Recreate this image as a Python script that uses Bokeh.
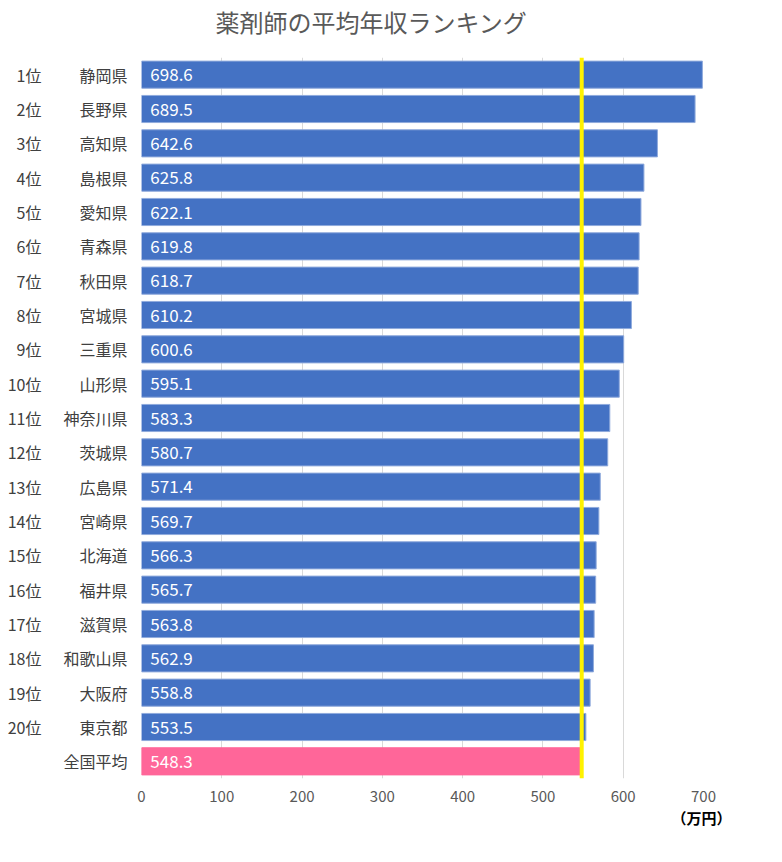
from bokeh.plotting import figure
from bokeh.models import Range1d, Span, ColumnDataSource, LabelSet, Title, LinearAxis, FixedTicker
from bokeh.core.properties import value
from bokeh.embed import file_html
from bokeh.resources import INLINE

ranks = ["1位", "2位", "3位", "4位", "5位", "6位", "7位", "8位", "9位", "10位",
         "11位", "12位", "13位", "14位", "15位", "16位", "17位", "18位", "19位", "20位", ""]
prefectures = ["静岡県", "長野県", "高知県", "島根県", "愛知県", "青森県", "秋田県", "宮城県",
               "三重県", "山形県", "神奈川県", "茨城県", "広島県", "宮崎県", "北海道", "福井県",
               "滋賀県", "和歌山県", "大阪府", "東京都", "全国平均"]
salaries = [698.6, 689.5, 642.6, 625.8, 622.1, 619.8, 618.7, 610.2, 600.6, 595.1,
            583.3, 580.7, 571.4, 569.7, 566.3, 565.7, 563.8, 562.9, 558.8, 553.5, 548.3]
national_average = 548.3
x_ticks = [0, 100, 200, 300, 400, 500, 600, 700]

BLUE = "#4472C4"
PINK = "#FF6699"
JP_FONT = "Noto Sans CJK JP"

idx = list(range(len(prefectures)))
colors = [BLUE] * (len(prefectures) - 1) + [PINK]
outlines = ["#8FAADC"] * (len(prefectures) - 1) + [PINK]
src = ColumnDataSource(dict(
    y=idx, v=salaries, color=colors, outline=outlines,
    vtxt=[f"{s:.1f}" for s in salaries], lx=[11] * len(idx),
))

p = figure(width=770, height=827, output_backend="svg", toolbar_location=None,
           x_range=Range1d(0, 700), y_range=Range1d(20.5, -0.5),
           min_border_left=141, min_border_right=67, min_border_top=57, min_border_bottom=0)
p.outline_line_color = None
p.background_fill_color = "white"
p.border_fill_color = "white"

p.hbar(y="y", left=0, right="v", height=0.79, source=src,
       fill_color="color", line_color="outline", line_width=1)

p.add_layout(Span(location=national_average, dimension="height",
                  line_color="#FFF200", line_width=4))

p.add_layout(LabelSet(x="lx", y="y", text="vtxt", source=src, text_color="white",
                      text_font_size="17px", text_font=value(JP_FONT), text_baseline="middle",
                      text_align="left"))

# x axis
p.xaxis.ticker = x_ticks
p.xaxis.axis_line_color = None
p.xaxis.major_tick_line_color = None
p.xaxis.minor_tick_line_color = None
p.xaxis.major_label_text_font = JP_FONT
p.xaxis.major_label_text_font_size = "15px"
p.xaxis.major_label_text_color = "#595959"
p.xaxis.major_label_standoff = 6

# prefecture axis (inner)
p.yaxis.ticker = FixedTicker(ticks=idx)
p.yaxis.major_label_overrides = {i: name for i, name in zip(idx, prefectures)}
p.yaxis.axis_line_color = None
p.yaxis.major_tick_line_color = None
p.yaxis.minor_tick_line_color = None
p.yaxis.major_label_text_font = JP_FONT
p.yaxis.major_label_text_font_size = "16px"
p.yaxis.major_label_text_color = "#404040"
p.yaxis.major_label_standoff = 8

# rank axis (outer)
rank_axis = LinearAxis(ticker=FixedTicker(ticks=idx),
                       major_label_overrides={i: r if r else " " for i, r in zip(idx, ranks)},
                       axis_line_color=None, major_tick_line_color=None,
                       minor_tick_line_color=None, major_label_text_font=JP_FONT,
                       major_label_text_font_size="16px", major_label_text_color="#404040",
                       major_label_standoff=13)
p.add_layout(rank_axis, "left")

p.xgrid.ticker = x_ticks
p.xgrid.grid_line_color = "#D9D9D9"
p.ygrid.grid_line_color = None

p.add_layout(Title(text="（万円）", align="right", offset=-28,
                   text_font=JP_FONT, text_font_size="15px", text_color="black",
                   text_font_style="bold", standoff=0), "below")

# spacer between title and frame
p.add_layout(Title(text=" ", text_font_size="16px", standoff=0), "above")
p.add_layout(Title(text="薬剤師の平均年収ランキング", align="left", offset=74,
                   text_font=JP_FONT, text_font_size="24px", text_color="#595959",
                   text_font_style="normal", standoff=0), "above")

open("out.html", "w").write(file_html(p, INLINE))
